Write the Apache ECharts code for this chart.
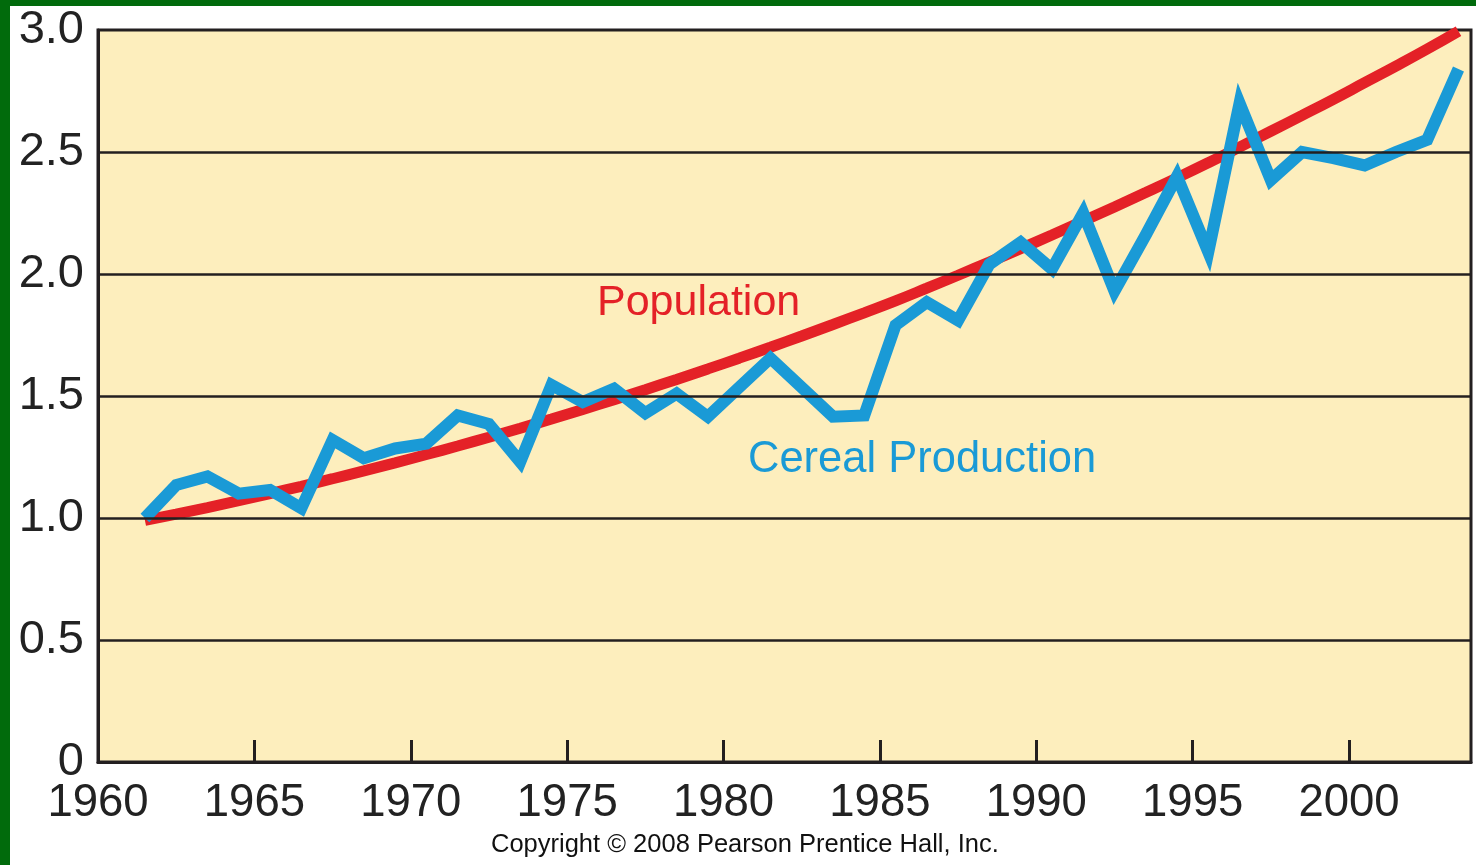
<html>
<head>
<meta charset="UTF-8">
<title>Population vs Cereal Production</title>
<script src="https://cdn.jsdelivr.net/npm/echarts@6/dist/echarts.min.js"></script>
<style>
    html, body{
        margin: 0;
        padding: 0;
        background: #016b0c;
        overflow: hidden;
    }
    #main{
        position: absolute;
        left: 10px;
        top: 6px;
        width: 1466px;
        height: 859px;
        background: #ffffff;
    }
</style>
</head>
<body>
<div id="main"></div>
<script>
// data (index, 1961 = 1.0)
var years = [1961,1962,1963,1964,1965,1966,1967,1968,1969,1970,
             1971,1972,1973,1974,1975,1976,1977,1978,1979,1980,
             1981,1982,1983,1984,1985,1986,1987,1988,1989,1990,
             1991,1992,1993,1994,1995,1996,1997,1998,1999,2000,
             2001,2002,2003];
var population = [0.990,1.016,1.043,1.071,1.100,1.130,1.161,1.193,1.226,1.260,
                  1.295,1.331,1.368,1.406,1.445,1.485,1.526,1.568,1.611,1.655,
                  1.700,1.746,1.793,1.841,1.890,1.942,1.995,2.049,2.104,2.160,
                  2.217,2.275,2.334,2.394,2.456,2.520,2.585,2.650,2.716,2.784,
                  2.852,2.922,2.995];
var cereal = [1.00,1.135,1.17,1.10,1.115,1.04,1.32,1.245,1.285,1.305,
              1.42,1.385,1.23,1.545,1.475,1.53,1.43,1.51,1.415,1.535,
              1.655,1.535,1.415,1.42,1.79,1.885,1.81,2.04,2.13,2.02,
              2.25,1.93,2.16,2.40,2.09,2.70,2.385,2.50,2.475,2.445,
              2.50,2.55,2.84];
var yGrid = [0.5,1.0,1.5,2.0,2.5];
var xLabels = [1960,1965,1970,1975,1980,1985,1990,1995,2000];
var xTicks = [1965,1970,1975,1980,1985,1990,1995,2000];

// annual values sit in the middle of each year
function pairs(vals){
    return years.map(function(y, i){ return [y + 0.5, vals[i]]; });
}

var myChart = echarts.init(document.getElementById('main'));
var font = '"Liberation Sans", Arial, sans-serif';

option = {
    animation: false,
    grid: {
        left: 88, top: 24, width: 1373, height: 732,
        show: true,
        backgroundColor: '#fdeebd',
        borderColor: '#231f20',
        borderWidth: 3
    },
    xAxis: {
        type: 'value',
        min: 1960,
        max: 2003.9,
        interval: 5,
        axisLine: { show: true, lineStyle: { color: '#231f20', width: 3 } },
        axisTick: {
            show: true, inside: true, length: 22,
            customValues: xTicks,
            lineStyle: { color: '#231f20', width: 3 }
        },
        axisLabel: {
            customValues: xLabels,
            margin: 18,
            fontSize: 45.5,
            fontFamily: font,
            color: '#222222',
            formatter: function(v){ return String(v); }
        },
        splitLine: { show: false }
    },
    yAxis: {
        type: 'value',
        min: 0,
        max: 3,
        interval: 0.5,
        axisLine: { show: true, lineStyle: { color: '#231f20', width: 3 } },
        axisTick: { show: false },
        axisLabel: {
            margin: 14,
            fontSize: 47,
            fontFamily: font,
            color: '#222222',
            formatter: function(v){ return v === 0 ? '0' : v.toFixed(1); }
        },
        splitLine: { show: false }
    },
    series: [{
        name: 'Population',
        type: 'line',
        data: pairs(population),
        smooth: true,
        showSymbol: false,
        z: 2,
        lineStyle: { color: '#e42127', width: 11, cap: 'butt' }
    },{
        name: 'Cereal Production',
        type: 'line',
        data: pairs(cereal),
        showSymbol: false,
        z: 3,
        lineStyle: { color: '#1a9ad6', width: 12, join: 'miter', miterLimit: 10, cap: 'butt' },
        // horizontal rules drawn over the lines, as in the print
        markLine: {
            silent: true,
            z: 6,
            symbol: 'none',
            label: { show: false },
            lineStyle: { color: '#231f20', width: 2.5, type: 'solid' },
            data: yGrid.map(function(v){ return { yAxis: v }; })
        }
    }],
    graphic: [{
        type: 'text', left: 587, top: 276, z: 10,
        style: { text: 'Population', fill: '#e42127', fontSize: 43, fontFamily: font }
    },{
        type: 'text', left: 738, top: 432, z: 10,
        style: { text: 'Cereal Production', fill: '#1a9ad6', fontSize: 43.5, fontFamily: font }
    },{
        type: 'text', left: 481, top: 826, z: 10,
        style: { text: 'Copyright \u00a9 2008 Pearson Prentice Hall, Inc.', fill: '#111111', fontSize: 25.5, fontFamily: font }
    }]
};
myChart.setOption(option);
</script>
</body>
</html>
